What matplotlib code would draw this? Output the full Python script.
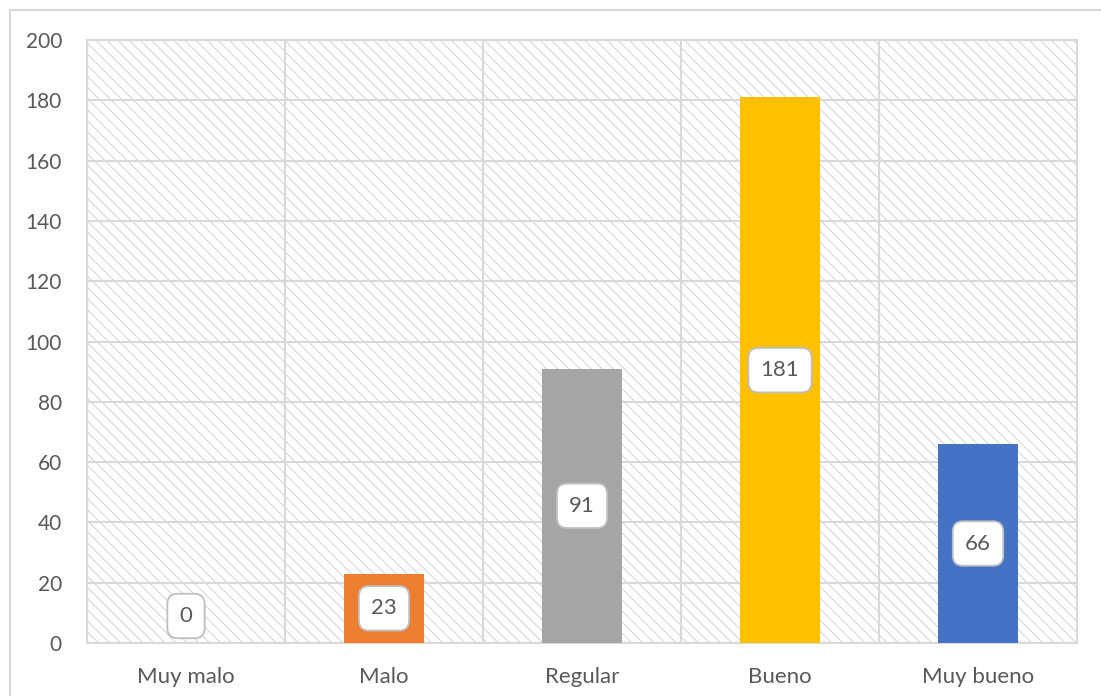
import matplotlib.pyplot as plt
from matplotlib.patches import Rectangle

categories = ['Muy malo', 'Malo', 'Regular', 'Bueno', 'Muy bueno']
values = [0, 23, 91, 181, 66]
bar_colors = ['#5B9BD5', '#ED7D31', '#A5A5A5', '#FFC000', '#4472C4']
y_ticks = list(range(0, 201, 20))

text_color = '#595959'
grid_color = '#D9D9D9'

plt.rcParams['font.family'] = ['Lato', 'DejaVu Sans']
plt.rcParams['hatch.linewidth'] = 0.9

fig = plt.figure(figsize=(11.01, 6.96), dpi=100)
ax = fig.add_axes([87 / 1101, 53 / 696, 990 / 1101, 603 / 696])

# outer chart border (cut by the image edges on the right and bottom)
fig.patches.append(Rectangle((10 / 1101, -0.1), 1.2, 1.1 - 10 / 696, transform=fig.transFigure,
                             fill=False, edgecolor=grid_color, linewidth=1.5))

# hatched plot area
ax.add_patch(Rectangle((0, 0), 1, 1, transform=ax.transAxes, facecolor='white',
                       edgecolor='#DCDCDC', hatch='\\\\\\', linewidth=0, zorder=0))

x = list(range(len(categories)))
ax.bar(x, values, width=0.405, color=bar_colors, zorder=3)

ax.set_xlim(-0.5, len(categories) - 0.5)
ax.set_ylim(0, 200)
ax.set_yticks(y_ticks)
ax.set_xticks(x)
ax.set_xticklabels(categories)
ax.set_xticks([i - 0.5 for i in range(len(categories) + 1)], minor=True)

ax.grid(True, which='major', axis='y', color=grid_color, linewidth=1.5, zorder=1)
ax.grid(True, which='minor', axis='x', color=grid_color, linewidth=1.5, zorder=1)
ax.set_axisbelow(True)

ax.tick_params(axis='both', which='both', length=0, colors=text_color)
ax.tick_params(axis='x', labelsize=16, pad=17)
ax.tick_params(axis='y', labelsize=15, pad=18)

for side in ['top', 'right', 'bottom', 'left']:
    ax.spines[side].set_color(grid_color)
    ax.spines[side].set_linewidth(1.5)

# data labels in rounded boxes
for xi, v in zip(x, values):
    box = dict(boxstyle='round,pad=0.55,rounding_size=0.45', facecolor='white',
               edgecolor='#BFBFBF', linewidth=1.3)
    if v == 0:
        ax.annotate(f'{v}', xy=(xi, 0), xytext=(0, 27 * 0.72), textcoords='offset points',
                    ha='center', va='center', fontsize=16, color=text_color, bbox=box, zorder=5)
    else:
        ax.text(xi, v / 2, f'{v}', ha='center', va='center', fontsize=16,
                color=text_color, bbox=box, zorder=5)

fig.savefig('out.png', dpi=100)
